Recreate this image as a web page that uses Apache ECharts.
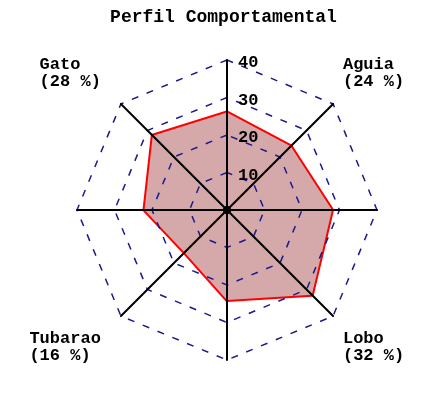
<!DOCTYPE html>
<html>
<head>
<meta charset="utf-8">
<script src="https://cdn.jsdelivr.net/npm/echarts@6/dist/echarts.min.js"></script>
<style>html,body{margin:0;padding:0;background:#fff;}#chart{width:447px;height:417px;}</style>
</head>
<body>
<div id="chart"></div>
<script>
// Indicators in ECharts order (counter-clockwise from the top axis)
const axisNames = ['', 'Gato', '', 'Tubarao', '', 'Lobo', '', 'Aguia'];
const axisShares = [null, 28, null, 16, null, 32, null, 24];
const values = [26, 28, 22, 16, 24, 32, 28, 24];
const tickLabels = ['10', '20', '30', '40'];
const maxValue = 40;
const titleText = 'Perfil Comportamental';

const FONT = '"Liberation Mono", "DejaVu Sans Mono", monospace';

const indicators = axisNames.map(function (n, i) {
  const ind = { name: n, max: maxValue, min: 0 };
  if (i === 0) {
    ind.axisLabel = {
      show: true, showMinLabel: false, margin: -11, align: 'left',
      color: '#000', fontFamily: FONT, fontWeight: 'bold', fontSize: 17,
      formatter: function (v) { return tickLabels.indexOf(String(v)) >= 0 ? '{a|' + v + '}' : ''; },
      rich: { a: { padding: [6, 0, 0, 0], color: '#000', fontFamily: FONT, fontWeight: 'bold', fontSize: 17 } }
    };
  }
  return ind;
});

function nameFormatter(name, ind) {
  if (!name) return '';
  const i = axisNames.indexOf(name);
  const line2 = '(' + axisShares[i] + ' %)';
  let l1 = name, l2 = line2;
  const isLeft = (i === 1 || i === 3);
  if (isLeft) {
    const w = Math.max(l1.length, l2.length);
    while (l1.length < w) l1 += ' ';
    while (l2.length < w) l2 += ' ';
    l1 += ' '; l2 += ' ';
  }
  const isTop = (i === 1 || i === 7);
  return isTop ? (l1 + '\n' + l2 + '\n{s|\u00a0}') : ('{s|\u00a0}\n' + l1 + '\n' + l2);
}

const chart = echarts.init(document.getElementById('chart'), null, { renderer: 'canvas' });
chart.setOption({
  animation: false,
  backgroundColor: '#fff',
  title: {
    text: titleText, left: 'center', top: 3,
    textStyle: { fontFamily: FONT, fontWeight: 'bold', fontSize: 18, color: '#000' }
  },
  radar: {
    z: 5,
    center: [227, 210],
    radius: 150,
    startAngle: 90,
    shape: 'polygon',
    splitNumber: 4,
    indicator: indicators,
    nameGap: 14,
    axisName: {
      color: '#000', fontFamily: FONT, fontWeight: 'bold', fontSize: 17, lineHeight: 17,
      formatter: nameFormatter,
      rich: { s: { lineHeight: 42, fontSize: 10 } }
    },
    axisLine: { symbol: ['circle', 'none'], symbolSize: [7, 7], lineStyle: { color: '#000', width: 2 } },
    axisTick: { show: false },
    axisLabel: { show: false },
    splitLine: { lineStyle: { color: '#1a1a8c', width: 1.5, type: [7, 9] } },
    splitArea: { show: false }
  },
  series: [{
    type: 'radar',
    z: 1,
    symbol: 'none',
    lineStyle: { color: '#ff0000', width: 4 },
    areaStyle: { color: '#d5a9a9', opacity: 1 },
    data: [{ value: values }]
  }]
});
</script>
</body>
</html>
